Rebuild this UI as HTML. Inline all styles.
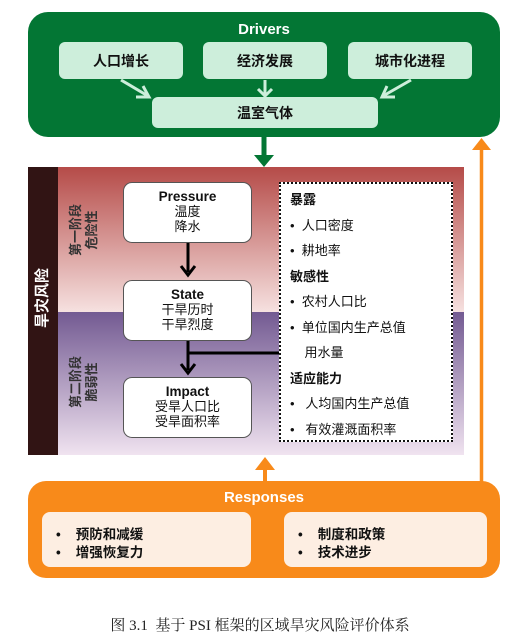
<!DOCTYPE html>
<html><head><meta charset="utf-8"><style>
body{margin:0;width:520px;height:638px;background:#fff;position:relative;font-family:"Liberation Sans","Noto Sans CJK SC",sans-serif;overflow:hidden}
div{position:absolute;box-sizing:border-box}
.g{background:#cdeedb;border-radius:6px;font-weight:bold;font-size:14px;display:flex;align-items:center;justify-content:center;color:#111}
.w{background:#fff;border:1px solid #555;border-radius:9px;text-align:center;font-size:13px;line-height:15px;color:#111;padding-top:6px}
.w b{font-size:13.5px}
.r{transform:translate(-50%,-50%) rotate(-90deg);white-space:nowrap;font-weight:bold;color:#333;font-size:13px;line-height:16px;text-align:center}
.o{background:#fdeee2;border-radius:8px;font-weight:bold;font-size:13.5px;line-height:18px;padding:14px 0 0 14px;color:#111}
</style></head><body>
<div style="left:28px;top:12px;width:472px;height:125px;background:#037634;border-radius:20px"></div>
<div style="left:28px;top:21px;width:472px;text-align:center;color:#fff;font-weight:bold;font-size:15px">Drivers</div>
<div class="g" style="left:59px;top:42px;width:124px;height:37px">人口增长</div>
<div class="g" style="left:203px;top:42px;width:124px;height:37px">经济发展</div>
<div class="g" style="left:348px;top:42px;width:124px;height:37px">城市化进程</div>
<div class="g" style="left:152px;top:97px;width:226px;height:31px">温室气体</div>
<svg style="position:absolute;left:0;top:0" width="520" height="638">
<g stroke="#cdeedb" stroke-width="3" fill="none"><line x1="121" y1="80" x2="148" y2="96"/><polyline points="136,97 149,97 143,86"/><line x1="265" y1="80" x2="265" y2="96"/><polyline points="258,89 265,96 272,89"/><line x1="411" y1="80" x2="383" y2="96"/><polyline points="387,86 382,97 395,97"/></g>
</svg>
<div style="left:28px;top:167px;width:436px;height:145px;background:linear-gradient(#b54b48,#f6e1e0)"></div>
<div style="left:28px;top:312px;width:436px;height:143px;background:linear-gradient(#735a92,#f0e3f0)"></div>
<div style="left:28px;top:167px;width:30px;height:288px;background:#311414"></div>
<div class="r" style="left:43px;top:298px;color:#fff;font-size:15px">旱灾风险</div>
<div class="r" style="left:84px;top:230px">第一阶段<br>危险性</div>
<div class="r" style="left:84px;top:382px">第二阶段<br>脆弱性</div>
<svg style="position:absolute;left:0;top:0" width="520" height="638">
<line x1="264" y1="137" x2="264" y2="158" stroke="#037634" stroke-width="5"/><polygon points="254,155 274,155 264,167" fill="#037634"/>
<line x1="188" y1="243" x2="188" y2="272" stroke="#000" stroke-width="3"/><polyline points="181,266 188,275 195,266" stroke="#000" stroke-width="3" fill="none"/>
<line x1="188" y1="341" x2="188" y2="370" stroke="#000" stroke-width="3"/><polyline points="181,364 188,373 195,364" stroke="#000" stroke-width="3" fill="none"/>
<line x1="188" y1="353" x2="280" y2="353" stroke="#000" stroke-width="3"/>
<line x1="481.5" y1="148" x2="481.5" y2="482" stroke="#f88a1a" stroke-width="3.5"/><polygon points="472,150 491,150 481.5,138" fill="#f88a1a"/>
<line x1="265" y1="470" x2="265" y2="482" stroke="#f88a1a" stroke-width="4"/><polygon points="255,470 275,470 265,457" fill="#f88a1a"/>
</svg>
<div class="w" style="left:123px;top:182px;width:129px;height:61px"><b>Pressure</b><br>温度<br>降水</div>
<div class="w" style="left:123px;top:280px;width:129px;height:61px"><b>State</b><br>干旱历时<br>干旱烈度</div>
<div class="w" style="left:123px;top:377px;width:129px;height:61px"><b>Impact</b><br>受旱人口比<br>受旱面积率</div>
<div style="left:279px;top:182px;width:174px;height:260px;background:#fff;border:2px dotted #111;font-size:13px;line-height:25.5px;padding:3px 0 0 9px;color:#111">
<b>暴露</b><br>•&nbsp; 人口密度<br>•&nbsp; 耕地率<br><b>敏感性</b><br>•&nbsp; 农村人口比<br>•&nbsp; 单位国内生产总值<br>&nbsp;&nbsp;&nbsp; 用水量<br><b>适应能力</b><br>•&nbsp;&nbsp; 人均国内生产总值<br>•&nbsp;&nbsp; 有效灌溉面积率</div>
<div style="left:28px;top:481px;width:472px;height:97px;background:#f88a1a;border-radius:18px"></div>
<div style="left:28px;top:489px;width:472px;text-align:center;color:#fff;font-weight:bold;font-size:15px">Responses</div>
<div class="o" style="left:42px;top:512px;width:209px;height:55px">•&nbsp;&nbsp;&nbsp; 预防和减缓<br>•&nbsp;&nbsp;&nbsp; 增强恢复力</div>
<div class="o" style="left:284px;top:512px;width:203px;height:55px">•&nbsp;&nbsp;&nbsp; 制度和政策<br>•&nbsp;&nbsp;&nbsp; 技术进步</div>
<div style="left:0;top:614px;width:520px;text-align:center;font-family:'Liberation Serif','Noto Serif CJK SC',serif;font-size:15px;color:#222">图 3.1&nbsp; 基于 PSI 框架的区域旱灾风险评价体系</div>
</body></html>
